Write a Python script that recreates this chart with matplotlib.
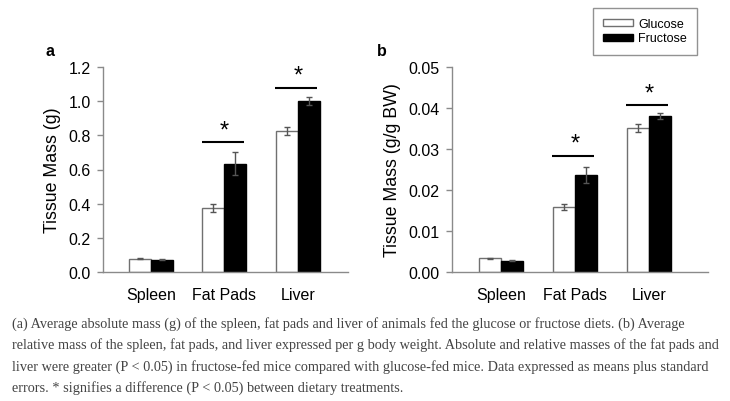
import numpy as np
import matplotlib.pyplot as plt
from matplotlib.patches import Patch

plt.rcParams['font.family'] = ['Liberation Sans', 'DejaVu Sans']

# ---- Data
tissues = ["Spleen", "Fat Pads", "Liver"]

abs_glucose = [0.078, 0.375, 0.825]
abs_glucose_err = [0.003, 0.025, 0.025]
abs_fructose = [0.072, 0.635, 1.0]
abs_fructose_err = [0.003, 0.07, 0.025]

rel_glucose = [0.0033, 0.0159, 0.0351]
rel_glucose_err = [0.0002, 0.0008, 0.0010]
rel_fructose = [0.0028, 0.0236, 0.0380]
rel_fructose_err = [0.0001, 0.0020, 0.0008]

# significance bars (tissue index, bar height)
abs_sig = [(1, 0.76), (2, 1.077)]
rel_sig = [(1, 0.0283), (2, 0.0407)]

caption = ("(a) Average absolute mass (g) of the spleen, fat pads and liver of animals fed the glucose or fructose diets. (b) Average\n"
           "relative mass of the spleen, fat pads, and liver expressed per g body weight. Absolute and relative masses of the fat pads and\n"
           "liver were greater (P < 0.05) in fructose-fed mice compared with glucose-fed mice. Data expressed as means plus standard\n"
           "errors. * signifies a difference (P < 0.05) between dietary treatments.")

fig = plt.figure(figsize=(7.3, 4.02), dpi=100)
ax_a = fig.add_axes([103/730, 1-273/402, 245/730, 205/402])
ax_b = fig.add_axes([452/730, 1-273/402, 256/730, 205/402])

spine_col = "#8a8a8a"
w = 0.3
x = np.arange(len(tissues))


def panel(ax, glu, glu_e, fru, fru_e, sig, ymax, ystep, fmt, xlim, ylabel, letter, letter_dx):
    ax.bar(x - w/2, glu, w, color="white", edgecolor="#707070", linewidth=1, zorder=2)
    ax.bar(x + w/2, fru, w, color="black", edgecolor="black", linewidth=1, zorder=2)
    ax.errorbar(x - w/2, glu, yerr=glu_e, fmt="none", ecolor="#555555",
                elinewidth=1, capsize=2.5, capthick=1, zorder=3)
    ax.errorbar(x + w/2, fru, yerr=fru_e, fmt="none", ecolor="#555555",
                elinewidth=1, capsize=2.5, capthick=1, zorder=3)
    for i, h in sig:
        ax.plot([i - 0.31, i + 0.26], [h, h], color="black", lw=1.5,
                solid_capstyle="butt", clip_on=False)
        ax.text(i, h + ymax*0.005, "*", ha="center", va="bottom", fontsize=17)
    ax.set_xlim(*xlim)
    ax.set_ylim(0, ymax)
    ax.set_yticks(np.arange(0, ymax + ystep/2, ystep))
    ax.yaxis.set_major_formatter(plt.FormatStrFormatter(fmt))
    ax.set_xticks(x)
    ax.set_xticklabels(tissues)
    for s in ["top", "right"]:
        ax.spines[s].set_visible(False)
    for s in ["left", "bottom"]:
        ax.spines[s].set_color(spine_col)
        ax.spines[s].set_linewidth(1)
    ax.tick_params(axis="y", direction="out", length=4, width=1, color=spine_col,
                   labelsize=11.5, pad=5)
    ax.tick_params(axis="x", length=0, labelsize=11.5, pad=11)
    ax.set_ylabel(ylabel, fontsize=12.8, labelpad=5)
    pos = ax.get_position()
    fig.text(pos.x0 + letter_dx/730, pos.y1 + 0.022, letter, fontsize=11.5,
             fontweight="bold", ha="left", va="bottom")


panel(ax_a, abs_glucose, abs_glucose_err, abs_fructose, abs_fructose_err, abs_sig,
      1.2, 0.2, "%.1f", (-0.65, 2.68), "Tissue Mass (g)", "a", -57)
panel(ax_b, rel_glucose, rel_glucose_err, rel_fructose, rel_fructose_err, rel_sig,
      0.05, 0.01, "%.2f", (-0.66, 2.8), "Tissue Mass (g/g BW)", "b", -75)

handles = [Patch(facecolor="white", edgecolor="#707070", label="Glucose"),
           Patch(facecolor="black", edgecolor="black", label="Fructose")]
leg = fig.legend(handles=handles, loc="upper left", bbox_to_anchor=(593/730, 1-9/402),
                 fontsize=9, frameon=True, fancybox=False, handlelength=2.4,
                 handleheight=0.5, handletextpad=0.4, borderpad=0.8, labelspacing=0.2,
                 borderaxespad=0)
leg.get_frame().set_edgecolor("#777777")
leg.get_frame().set_linewidth(1)

fig.text(12/730, 1-317/402, caption, ha="left", va="top", fontsize=10.25,
         family="Liberation Serif", color="#444444", linespacing=1.7)

fig.savefig("out.png", dpi=100)
